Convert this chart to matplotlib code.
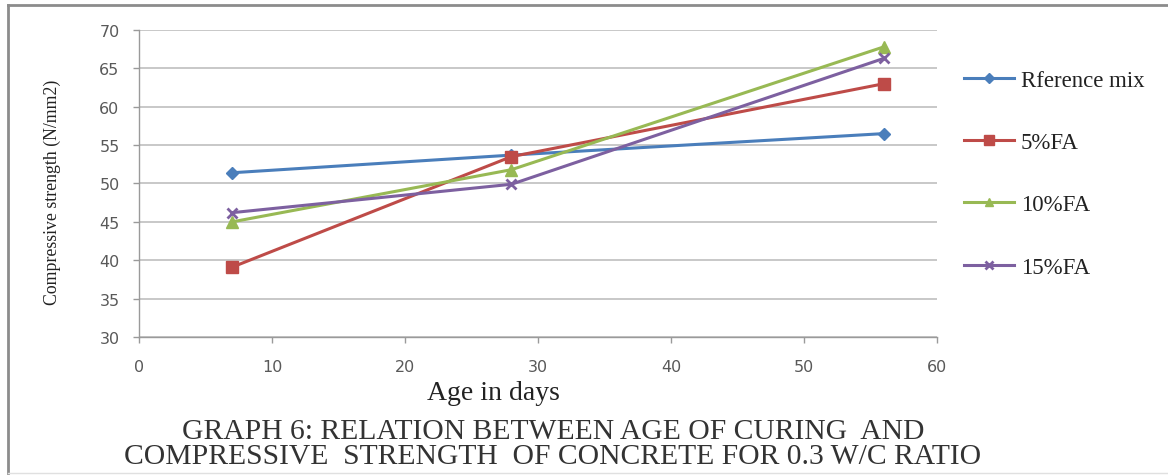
import matplotlib
matplotlib.use("Agg")
import matplotlib.pyplot as plt
from matplotlib.lines import Line2D

# ---- data ----
ages = [7, 28, 56]
series_names = ["Rference mix", "5%FA", "10%FA", "15%FA"]
ref_mix = [51.4, 53.7, 56.5]
fa5 = [39.1, 53.5, 63.0]
fa10 = [45.0, 51.8, 67.8]
fa15 = [46.2, 49.9, 66.3]
x_ticks = [0, 10, 20, 30, 40, 50, 60]
y_ticks = [30, 35, 40, 45, 50, 55, 60, 65, 70]
title_lines = ["GRAPH 6: RELATION BETWEEN AGE OF CURING  AND",
               "COMPRESSIVE  STRENGTH  OF CONCRETE FOR 0.3 W/C RATIO"]

colors = ["#4A7EBB", "#BE4B48", "#98B954", "#7D60A0"]
markers = ["D", "s", "^", "x"]
msizes = [6, 9, 8, 7]

W, H = 1168, 477
fig = plt.figure(figsize=(W / 100, H / 100), dpi=100)
fig.patch.set_facecolor("white")

ax = fig.add_axes([139 / W, (H - 338) / H, (937 - 139) / W, (338 - 31) / H])

for vals, name, c, m, ms in zip([ref_mix, fa5, fa10, fa15], series_names, colors, markers, msizes):
    ax.plot(ages, vals, color=c, lw=2.2, marker=m, ms=ms, mew=2 if m == "x" else 1,
            mec=c, mfc=c, label=name, zorder=3)

ax.set_xlim(0, 60)
ax.set_ylim(30, 70)
ax.set_xticks(x_ticks)
ax.set_yticks(y_ticks)
ax.yaxis.grid(True, color="#BFBFBF", lw=1.2)
ax.set_axisbelow(True)
for s in ["top", "right"]:
    ax.spines[s].set_visible(False)
for s in ["left", "bottom"]:
    ax.spines[s].set_color("#9A9A9A")
    ax.spines[s].set_linewidth(1.0)
ax.tick_params(axis="both", colors="#9A9A9A", length=4, width=1,
               labelcolor="#595959", labelsize=11.5)
ax.tick_params(axis="x", pad=12)
ax.tick_params(axis="y", pad=10)
for lab in ax.get_xticklabels() + ax.get_yticklabels():
    lab.set_family("DejaVu Sans")

fig.text(52 / W, 1 - 192 / H, "Compressive strength (N/mm2)", rotation=90,
         ha="center", va="center", family="Liberation Serif", fontsize=12.8, color="#222222")
fig.text(493 / W, 1 - 394 / H, "Age in days", ha="center", va="center",
         family="Liberation Serif", fontsize=20, color="#222222")

fig.text(553 / W, 1 - 432 / H, title_lines[0], ha="center", va="center",
         family="Liberation Serif", fontsize=21.3, color="#333333")
fig.text(553 / W, 1 - 457 / H, title_lines[1], ha="center", va="center",
         family="Liberation Serif", fontsize=21.3, color="#333333")

handles = [Line2D([0], [0], color=c, lw=2.2, marker=m, ms=ms * 0.8, mec=c, mfc=c,
                  mew=2 if m == "x" else 1)
           for c, m, ms in zip(colors, markers, msizes)]
leg = fig.legend(handles, series_names, loc="upper left",
                 bbox_to_anchor=(943 / W, 1 - 50 / H), frameon=False,
                 handlelength=2.2, handletextpad=0.3, labelspacing=1.8,
                 prop={"family": "Liberation Serif", "size": 16.5})
for t in leg.get_texts():
    t.set_color("#222222")

# outer frame (top and left edges)
fig.add_artist(Line2D([8 / W, 1], [1 - 6 / H, 1 - 6 / H], transform=fig.transFigure,
                      color="#8C8C8C", lw=2))
fig.add_artist(Line2D([8 / W, 8 / W], [1 - 6 / H, 1 - 474 / H], transform=fig.transFigure,
                      color="#8C8C8C", lw=2))
fig.add_artist(Line2D([8 / W, 1], [1 - 474 / H, 1 - 474 / H], transform=fig.transFigure,
                      color="#E0E0E0", lw=1))

fig.savefig("out.png", dpi=100, facecolor="white")
